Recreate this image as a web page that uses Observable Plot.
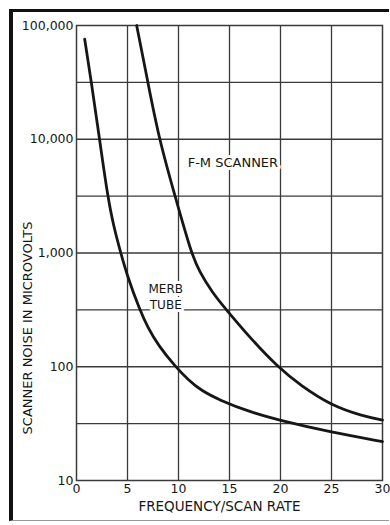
<!DOCTYPE html>
<html>
<head>
<meta charset="utf-8">
<script src="https://cdn.jsdelivr.net/npm/d3@7"></script>
<script src="https://cdn.jsdelivr.net/npm/@observablehq/plot@0.6"></script>
<style>
  html, body { margin: 0; padding: 0; background: #fff; }
  body { position: relative; width: 390px; height: 525px; overflow: hidden; font-family: "DejaVu Sans", sans-serif; }
  #chart { position: absolute; left: 0; top: 0; }
  #border { position: absolute; left: 9px; top: 9px; width: 380px; height: 512px;
            border-left: 4px solid #111; border-top: 3px solid #111; border-bottom: 1px solid #999; box-sizing: border-box; }
</style>
</head>
<body>
<div id="border"></div>
<div id="chart"></div>
<script>
// Curve data
const merbX = [0.8, 1.46, 2.26, 3.05, 3.65, 4.34, 5.0, 6.2, 7.0, 8.0, 9.7, 11, 12.2, 14, 17, 20, 25, 30];
const merbY = [76000, 31600, 10000, 3160, 1700, 1000, 620, 316, 220, 155, 100, 76, 62, 51, 40, 33.6, 26.5, 22];
const fmX = [5.9, 7.0, 8.1, 9.66, 11.25, 12.0, 13.3, 14.7, 17, 19.7, 22, 25, 28, 30];
const fmY = [100000, 31600, 10000, 3160, 1000, 700, 450, 316, 180, 100, 68, 45.5, 37, 34];

// Axes
const xTicks = [0, 5, 10, 15, 20, 25, 30];
const yTicks = [10, 100, 1000, 10000, 100000];
const yTickLabels = ["10", "100", "1,000", "10,000", "100,000"];
const xGrid = [5, 10, 15, 20, 25];
const yGrid = [31.6, 100, 316, 1000, 3162, 10000, 31623];
const xTitle = "FREQUENCY/SCAN RATE";
const yTitle = "SCANNER NOISE IN MICROVOLTS";

// Curve labels
const fmLabel = [{text: "F-M SCANNER", x: 10.9, y: 6240}];
const merbLabel = [{text: "MERB\nTUBE", x: 8.75, y: 420}];

const merb = merbX.map((x, i) => ({x, y: merbY[i]}));
const fm = fmX.map((x, i) => ({x, y: fmY[i]}));

const ink = "#161616";
const gridInk = "#3a3a3a";

const chart = Plot.plot({
  width: 390,
  height: 525,
  marginLeft: 76,
  marginRight: 8,
  marginTop: 25,
  marginBottom: 45,
  style: {fontFamily: "DejaVu Sans, sans-serif", fontSize: "12.5px", color: ink, background: "transparent"},
  x: {domain: [0, 30], ticks: xTicks, tickSize: 0, tickPadding: 4, label: null},
  y: {type: "log", domain: [10, 100000], ticks: yTicks, tickSize: 0, tickPadding: 3,
      tickFormat: (d) => yTickLabels[yTicks.indexOf(d)], label: null},
  marks: [
    Plot.ruleX(xGrid, {stroke: gridInk, strokeWidth: 1.3}),
    Plot.ruleY(yGrid, {stroke: gridInk, strokeWidth: 1.3}),
    Plot.frame({stroke: gridInk, strokeWidth: 1.5}),
    Plot.text(fmLabel, {x: "x", y: "y", text: "text", textAnchor: "start",
      fontSize: 13, fill: ink, stroke: "white", strokeWidth: 6}),
    Plot.text(merbLabel, {x: "x", y: "y", text: "text", textAnchor: "middle",
      fontSize: 12, fill: ink, stroke: "white", strokeWidth: 6, lineHeight: 1.35}),
    Plot.line(merb, {x: "x", y: "y", curve: "basis", stroke: ink, strokeWidth: 2.8}),
    Plot.line(fm, {x: "x", y: "y", curve: "basis", stroke: ink, strokeWidth: 2.8}),
    Plot.text([yTitle], {frameAnchor: "left", textAnchor: "middle", dx: -49, dy: 75, rotate: -90, fontSize: 13, fill: ink}),
    Plot.text([xTitle], {frameAnchor: "bottom", textAnchor: "middle", dx: -10, dy: 30, fontSize: 13.5, fill: ink})
  ]
});
document.getElementById("chart").appendChild(chart);
</script>
</body>
</html>
